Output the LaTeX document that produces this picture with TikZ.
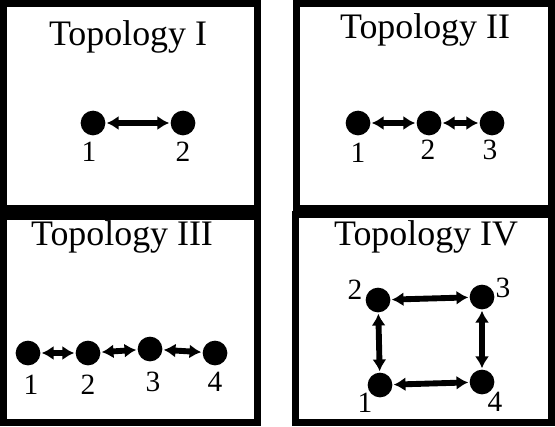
\documentclass[tikz,border=0pt]{standalone}
\usepackage{fontspec}
\setmainfont{Liberation Serif}
\usetikzlibrary{arrows.meta}
\tikzset{
  frame/.style={line width=6pt},
  title/.style={anchor=base,font=\fontsize{30.5}{30.5}\selectfont},
  peer/.style={circle,fill=black,inner sep=0pt,minimum size=21pt},
  tag/.style={font=\fontsize{25}{25}\selectfont},
  link/.style={{Latex[length=10pt,width=12pt]}-{Latex[length=10pt,width=12pt]},line width=5pt,shorten <=1pt,shorten >=1pt},
}
\begin{document}
\begin{tikzpicture}[x=0.85pt,y=-0.85pt]
\useasboundingbox (0,0) rectangle (555,426);
% frames
\draw[frame] (3,3.5) rectangle (257.5,209);
\draw[frame] (296.5,3) rectangle (551.5,208.5);
\draw[frame] (3,216.5) rectangle (257.5,422.5);
\draw[frame] (295.5,214.5) rectangle (551.5,422.5);
% Topology I
\node[title] (t1) at (128,45) {Topology I};
\node[peer] (a1) at (93,123) {};
\node[peer] (a2) at (183,123) {};
\node[tag] at (89,152) {1};
\node[tag] at (183,152) {2};
\draw[link] (a1) -- (a2);
% Topology II
\node[title] (t2) at (425,38) {Topology II};
\node[peer] (b1) at (358,123) {};
\node[peer] (b2) at (429,123) {};
\node[peer] (b3) at (492,123) {};
\node[tag] at (358,153) {1};
\node[tag] at (428,150) {2};
\node[tag] at (490,150) {3};
\draw[link] (b1) -- (b2);
\draw[link] (b2) -- (b3);
% Topology III
\node[title] (t3) at (122,245) {Topology III};
\node[peer] (c1) at (28,353) {};
\node[peer] (c2) at (88,353) {};
\node[peer] (c3) at (150,349) {};
\node[peer] (c4) at (215,353) {};
\node[tag] at (31,385) {1};
\node[tag] at (88,385) {2};
\node[tag] at (153,382) {3};
\node[tag] at (215,382) {4};
\draw[link] (c1) -- (c2);
\draw[link] (c2) -- (c3);
\draw[link] (c3) -- (c4);
% Topology IV
\node[title] (t4) at (426,245) {Topology IV};
\node[peer] (d1) at (380,385) {};
\node[peer] (d2) at (378,300) {};
\node[peer] (d3) at (482,297) {};
\node[peer] (d4) at (482,382) {};
\node[tag] at (365,403) {1};
\node[tag] at (355,290) {2};
\node[tag] at (503,288) {3};
\node[tag] at (495,402) {4};
\draw[link] (d1) -- (d2);
\draw[link] (d2) -- (d3);
\draw[link] (d3) -- (d4);
\draw[link] (d4) -- (d1);
\end{tikzpicture}
\end{document}
